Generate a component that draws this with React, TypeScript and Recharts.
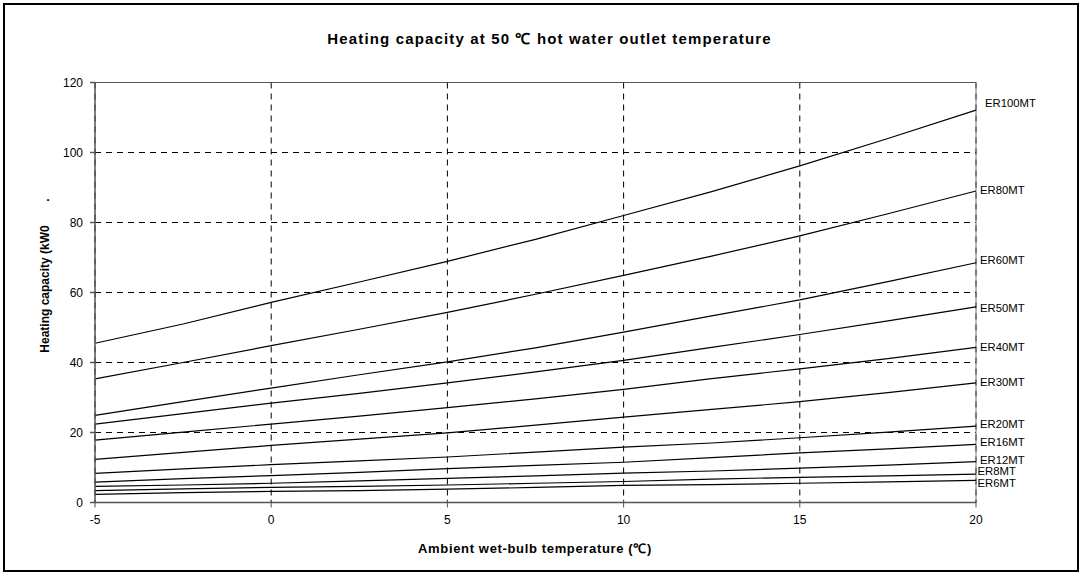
import React from "react";
import { LineChart, Line, XAxis, YAxis, CartesianGrid, ReferenceLine } from "recharts";

const temps = [-5, -2.5, 0, 2.5, 5, 7.5, 10, 12.5, 15, 17.5, 20];
const xTicks = [-5, 0, 5, 10, 15, 20];
const yTicks = [0, 20, 40, 60, 80, 100, 120];

const seriesNames = ["ER100MT", "ER80MT", "ER60MT", "ER50MT", "ER40MT", "ER30MT", "ER20MT", "ER16MT", "ER12MT", "ER8MT", "ER6MT"];

const er100 = [45.5, 51.0, 57.2, 63.0, 68.9, 75.2, 82.0, 88.8, 96.2, 104.0, 112.1];
const er80 = [35.3, 40.0, 44.8, 49.5, 54.3, 59.5, 64.9, 70.4, 76.2, 82.5, 89.0];
const er60 = [24.9, 28.8, 32.7, 36.5, 40.2, 44.2, 48.7, 53.3, 57.9, 63.1, 68.5];
const er50 = [22.4, 25.4, 28.4, 31.2, 34.2, 37.3, 40.6, 44.3, 48.0, 51.9, 55.9];
const er40 = [17.8, 20.1, 22.4, 24.7, 27.1, 29.6, 32.3, 35.4, 38.2, 41.1, 44.3];
const er30 = [12.3, 14.3, 16.3, 18.1, 19.9, 22.1, 24.4, 26.6, 28.8, 31.4, 34.2];
const er20 = [8.3, 9.6, 10.8, 11.9, 13.0, 14.4, 15.8, 17.0, 18.5, 20.1, 21.8];
const er16 = [5.8, 6.8, 7.7, 8.6, 9.7, 10.6, 11.5, 12.8, 14.2, 15.3, 16.6];
const er12 = [4.6, 5.0, 5.5, 6.2, 6.9, 7.6, 8.4, 9.0, 9.8, 10.7, 11.7];
const er8 = [3.4, 3.9, 4.3, 4.6, 5.0, 5.5, 6.0, 6.7, 7.2, 7.6, 8.1];
const er6 = [2.3, 2.8, 3.2, 3.4, 3.8, 4.3, 4.9, 5.1, 5.5, 5.9, 6.3];

const seriesValues = [er100, er80, er60, er50, er40, er30, er20, er16, er12, er8, er6];

// label placement offsets (styling only)
const labelDx = [9, 4, 4, 4, 4, 4, 4, 4, 4, 1.5, 1.5];
const labelDy = [-6.7, -1, -2.7, 1.6, -0.6, -0.6, -2.4, -2.3, -2, -3, 2.3];

const rows = temps.map((t, i) => {
  const r: Record<string, number> = { t };
  seriesNames.forEach((n, k) => {
    r[n] = seriesValues[k][i];
  });
  return r;
});

const FONT = "'Liberation Sans', Arial, sans-serif";
const AXIS_Y = 502.5;
const TICK_SIZE = 5;
const TICK_MARGIN = 8;

const XTick = (props: any) => {
  const { x, y, payload } = props;
  const ay = y - TICK_SIZE - TICK_MARGIN;
  return (
    <g>
      <line x1={x} x2={x} y1={ay - 3} y2={ay + 5} stroke="#555" strokeWidth={1} />
      <text x={x} y={y} dy="0.71em" textAnchor="middle" fontSize={12} fill="#000" fontFamily={FONT}>
        {payload.value}
      </text>
    </g>
  );
};

const makeLabel = (k: number) => (props: any) => {
  const { x, y, index } = props;
  if (index !== temps.length - 1) return null;
  return (
    <text
      key={`lbl-${k}`}
      x={x + labelDx[k]}
      y={y + labelDy[k]}
      dy="0.35em"
      fontSize={11.3}
      fill="#000"
      fontFamily={FONT}
    >
      {seriesNames[k]}
    </text>
  );
};

export default function App() {
  return (
    <div style={{ position: "absolute", left: 0, top: 0, width: 1083, height: 575, background: "#fff" }}>
      <div
        style={{
          position: "absolute",
          left: 3,
          top: 3,
          width: 1076,
          height: 569,
          border: "2px solid #000",
          boxSizing: "border-box",
        }}
      />
      <div
        style={{
          position: "absolute",
          left: 8,
          top: 30,
          width: 1083,
          textAlign: "center",
          fontFamily: FONT,
          fontWeight: "bold",
          fontSize: 15,
          letterSpacing: "1.15px",
          lineHeight: "17px",
          color: "#000",
          whiteSpace: "nowrap",
        }}
      >
        Heating capacity at 50 ℃ hot water outlet temperature
      </div>
      <div style={{ position: "absolute", left: 0, top: 0 }}>
        <LineChart
          width={1083}
          height={575}
          data={rows}
          margin={{ top: 82.5, right: 107, bottom: 575 - AXIS_Y - 40, left: 0 }}
        >
          <CartesianGrid stroke="#000" strokeDasharray="6 5" strokeWidth={1} />
          <XAxis
            dataKey="t"
            type="number"
            domain={[-5, 20]}
            ticks={xTicks}
            height={40}
            stroke="#555"
            strokeWidth={1.5}
            tickSize={TICK_SIZE}
            tickMargin={TICK_MARGIN}
            tickLine={false}
            tick={<XTick />}
            label={{
              content: () => (
                <text
                  x={535}
                  y={553}
                  textAnchor="middle"
                  fontSize={13}
                  fontWeight="bold"
                  letterSpacing="0.65"
                  fill="#000"
                  fontFamily={FONT}
                >
                  Ambient wet-bulb temperature (℃)
                </text>
              ),
            }}
          />
          <YAxis
            type="number"
            domain={[0, 120]}
            ticks={yTicks}
            width={95}
            stroke="#555"
            strokeWidth={1.5}
            tickSize={TICK_SIZE}
            tickMargin={7}
            tick={{ fontSize: 12, fill: "#000", fontFamily: FONT }}
            label={{
              content: () => (
                <g>
                  <text
                    x={45}
                    y={289}
                    transform="rotate(-90, 45, 289)"
                    textAnchor="middle"
                    dominantBaseline="central"
                    fontSize={12}
                    fontWeight="bold"
                    fill="#000"
                    fontFamily={FONT}
                  >
                    Heating capacity (kW0
                  </text>
                  <text
                    x={45}
                    y={200}
                    transform="rotate(-90, 45, 200)"
                    textAnchor="middle"
                    dominantBaseline="central"
                    fontSize={12}
                    fontWeight="bold"
                    fill="#000"
                    fontFamily={FONT}
                  >
                    .
                  </text>
                </g>
              ),
            }}
          />
          <ReferenceLine y={120} stroke="#555" strokeWidth={1} />
          <ReferenceLine x={20} stroke="#777" strokeWidth={1} />
          {seriesNames.map((n, k) => (
            <Line
              key={n}
              dataKey={n}
              type="linear"
              stroke="#000"
              strokeWidth={1.2}
              dot={false}
              activeDot={false}
              isAnimationActive={false}
              label={makeLabel(k)}
            />
          ))}
        </LineChart>
      </div>
    </div>
  );
}
